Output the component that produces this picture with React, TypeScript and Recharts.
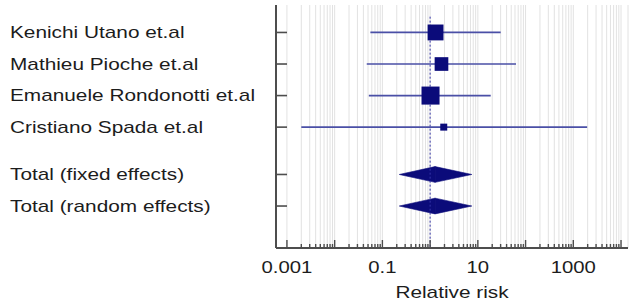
import React from 'react';
import { ComposedChart, XAxis, YAxis, CartesianGrid, Scatter, ReferenceArea } from 'recharts';

// ---- data ----
const studyNames = ['Kenichi Utano et.al', 'Mathieu Pioche et.al', 'Emanuele Rondonotti et.al', 'Cristiano Spada et.al'];
const studyRow = [0, 1, 2, 3];
const studyRR = [1.3, 1.73, 1.02, 1.93];
const studyLower = [0.056, 0.047, 0.052, 0.002];
const studyUpper = [30.1, 63.1, 18.6, 1950];
const studyWeight = [31, 23, 40, 6];

const totalNames = ['Total (fixed effects)', 'Total (random effects)'];
const totalRow = [4.5, 5.5];
const totalRR = [1.27, 1.27];
const totalLower = [0.226, 0.226];
const totalUpper = [7.48, 7.48];

const decades = [0.001, 0.01, 0.1, 1, 10, 100, 1000, 10000];
const minorMultipliers = [1, 2, 3, 4, 5, 6, 7, 8, 9];
const xTickLabels = [0.001, 0.1, 10, 1000];
const xTitle = 'Relative risk';

// ---- layout / style ----
const X_DOMAIN: [number, number] = [0.00059, 14000];
const Y_DOMAIN: [number, number] = [-0.87, 6.83];
const FONT = '"Liberation Sans", Arial, Helvetica, sans-serif';
const SX = 1.3;
const AXIS = '#4d4d4d';
const NAVY = '#0b0b7a';
const WHISKER = '#4a4fa6';

const xTicks: number[] = [];
decades.forEach((d) =>
  minorMultipliers.forEach((m) => {
    const v = parseFloat((d * m).toPrecision(6));
    if (v >= X_DOMAIN[0] && v <= X_DOMAIN[1]) xTicks.push(v);
  })
);

const rowLabels: { row: number; name: string }[] = [
  ...studyNames.map((name, i) => ({ row: studyRow[i], name })),
  ...totalNames.map((name, i) => ({ row: totalRow[i], name })),
];

const squares = studyNames.map((n, i) => ({ x: studyRR[i], y: studyRow[i], w: studyWeight[i] }));

const YTick = (props: any) => {
  const { x, y, payload } = props;
  const lab = rowLabels.find((r) => Math.abs(r.row - payload.value) < 1e-6);
  return (
    <g>
      <line x1={x} y1={y} x2={x + 11} y2={y} stroke={AXIS} strokeWidth={1.6} />
      <text
        transform={`translate(10, ${y + 5.8}) scale(${SX},1)`}
        fontSize={16}
        fontFamily={FONT}
        fill="#1c1c1c"
      >
        {lab ? lab.name : ''}
      </text>
    </g>
  );
};

const XTick = (props: any) => {
  const { x, y, payload } = props;
  const v = payload.value as number;
  const lg = Math.log10(v);
  const isDecade = Math.abs(lg - Math.round(lg)) < 1e-6;
  const show = xTickLabels.some((l) => Math.abs(l - v) / l < 1e-6);
  return (
    <g>
      <line x1={x} x2={x} y1={y} y2={y - (isDecade ? 8 : 4)} stroke={AXIS} strokeWidth={1.4} />
      {show && (
        <text
          transform={`translate(${x}, ${y + 25.3}) scale(1.27,1)`}
          textAnchor="middle"
          fontSize={16}
          fontFamily={FONT}
          fill="#1c1c1c"
        >
          {String(v)}
        </text>
      )}
    </g>
  );
};

const SquareShape = (props: any) => {
  const { cx, cy, payload } = props;
  const s = 2.85 * Math.sqrt(payload.w);
  return <rect x={cx - s / 2} y={cy - s / 2} width={s} height={s} fill={NAVY} />;
};

const NoShape = () => <g />;

const LeftHalf = (p: any) => {
  const { x, y, width: w, height: h } = p;
  return (
    <polygon
      points={`${x},${y + h / 2} ${x + w},${y} ${x + w},${y + h}`}
      fill={NAVY}
      stroke={NAVY}
      strokeWidth={0.6}
    />
  );
};
const RightHalf = (p: any) => {
  const { x, y, width: w, height: h } = p;
  return (
    <polygon
      points={`${x},${y} ${x + w},${y + h / 2} ${x},${y + h}`}
      fill={NAVY}
      stroke={NAVY}
      strokeWidth={0.6}
    />
  );
};

const TitleLabel = (props: any) => {
  const vb = props.viewBox || {};
  const cx = vb.x + vb.width / 2;
  return (
    <text
      transform={`translate(${cx}, ${vb.y + 50.3}) scale(${SX},1)`}
      textAnchor="middle"
      fontSize={16}
      fontFamily={FONT}
      fill="#1c1c1c"
    >
      {xTitle}
    </text>
  );
};

export default function App() {
  return (
    <div style={{ position: 'absolute', left: 0, top: 0, width: 629, height: 308, background: '#fff' }}>
      <ComposedChart width={629} height={308} margin={{ top: 5, right: 1, bottom: 0, left: 0 }}>
        <CartesianGrid horizontal={false} stroke="#e2e2e2" strokeWidth={1} />
        <XAxis
          type="number"
          dataKey="x"
          scale="log"
          domain={X_DOMAIN}
          allowDataOverflow
          ticks={xTicks}
          interval={0}
          height={60}
          tickSize={0}
          tickMargin={0}
          tickLine={false}
          tick={<XTick />}
          axisLine={{ stroke: AXIS, strokeWidth: 2 }}
          label={{ content: <TitleLabel /> } as any}
        />
        <YAxis
          type="number"
          dataKey="y"
          domain={Y_DOMAIN}
          allowDataOverflow
          reversed
          ticks={[...studyRow, ...totalRow]}
          interval={0}
          width={276}
          tickSize={0}
          tickMargin={0}
          tickLine={false}
          tick={<YTick />}
          axisLine={{ stroke: AXIS, strokeWidth: 2 }}
        />
        <Scatter
          data={[
            { x: 1, y: -0.5 },
            { x: 1, y: Y_DOMAIN[1] },
          ]}
          shape={NoShape}
          fill="none"
          line={{ stroke: '#3535a8', strokeWidth: 1, strokeDasharray: '2 2' }}
          isAnimationActive={false}
        />
        {studyNames.map((n, i) => (
          <Scatter
            key={'w' + i}
            data={[
              { x: studyLower[i], y: studyRow[i] },
              { x: studyUpper[i], y: studyRow[i] },
            ]}
            shape={NoShape}
            fill="none"
            line={{ stroke: WHISKER, strokeWidth: 1.7 }}
            isAnimationActive={false}
          />
        ))}
        {totalNames.map((n, i) => (
          <ReferenceArea
            key={'dl' + i}
            x1={totalLower[i]}
            x2={totalRR[i]}
            y1={totalRow[i] - 0.25}
            y2={totalRow[i] + 0.25}
            shape={LeftHalf}
          />
        ))}
        {totalNames.map((n, i) => (
          <ReferenceArea
            key={'dr' + i}
            x1={totalRR[i]}
            x2={totalUpper[i]}
            y1={totalRow[i] - 0.25}
            y2={totalRow[i] + 0.25}
            shape={RightHalf}
          />
        ))}
        <Scatter data={squares} shape={SquareShape} fill={NAVY} isAnimationActive={false} />
      </ComposedChart>
    </div>
  );
}
